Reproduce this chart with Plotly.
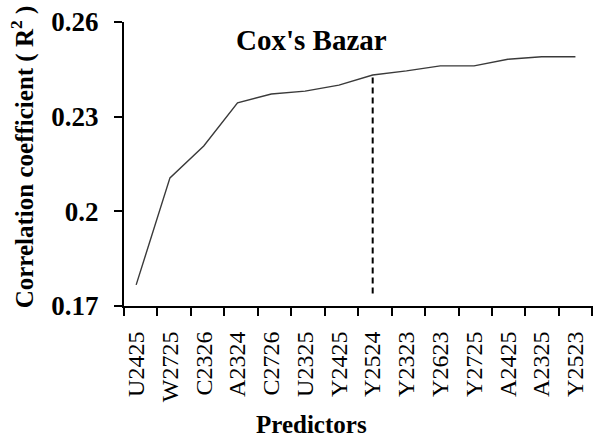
import plotly.graph_objects as go

predictors = ["U2425", "W2725", "C2326", "A2324", "C2726", "U2325", "Y2425",
              "Y2524", "Y2323", "Y2623", "Y2725", "A2425", "A2325", "Y2523"]
r2_values = [0.1767, 0.2106, 0.2207, 0.2344, 0.2372, 0.2381, 0.2400,
             0.2432, 0.2445, 0.2461, 0.2461, 0.2482, 0.2490, 0.2490]
y_ticks = [0.17, 0.2, 0.23, 0.26]
y_tick_text = ["0.17", "0.2", "0.23", "0.26"]
cutoff_index = 7
cutoff_base = 0.174

x_idx = list(range(len(predictors)))
font_family = "Liberation Serif, Times New Roman, serif"

fig = go.Figure()
fig.add_trace(go.Scatter(
    x=x_idx, y=r2_values, mode="lines",
    line=dict(color="#3a3a3a", width=1.4),
    showlegend=False, hoverinfo="skip"))
fig.add_trace(go.Scatter(
    x=[cutoff_index, cutoff_index], y=[cutoff_base, r2_values[cutoff_index]],
    mode="lines", line=dict(color="black", width=2, dash="6px,4px"),
    showlegend=False, hoverinfo="skip"))

fig.update_layout(
    width=600, height=438,
    margin=dict(l=124, r=7, t=22, b=132, autoexpand=False),
    paper_bgcolor="white", plot_bgcolor="white",
    font=dict(family=font_family, color="black"),
    annotations=[
        dict(text="<b>Cox's Bazar</b>", x=0.40, y=0.937, xref="paper", yref="paper",
             showarrow=False, font=dict(size=29, family=font_family, color="black"),
             xanchor="center", yanchor="middle"),
        dict(text="<b>Correlation coefficient ( R<sup>2</sup> )</b>",
             x=-0.216, y=0.526, xref="paper", yref="paper", textangle=-90,
             showarrow=False, font=dict(size=25, family=font_family, color="black"),
             xanchor="center", yanchor="middle"),
        dict(text="<b>Predictors</b>", x=0.40, y=-0.419, xref="paper", yref="paper",
             showarrow=False, font=dict(size=25, family=font_family, color="black"),
             xanchor="center", yanchor="middle"),
    ],
)
fig.update_xaxes(
    range=[-0.36, 13.52], automargin=False,
    tickmode="array", tickvals=x_idx, ticktext=predictors,
    tickangle=-90, ticks="", ticklabelstandoff=14,
    tickfont=dict(size=24, family=font_family, color="black"),
    showline=True, linecolor="black", linewidth=2,
    showgrid=False, zeroline=False,
    minor=dict(tickmode="linear", tick0=-0.36, dtick=0.99, ticks="outside",
               ticklen=8, tickwidth=2, tickcolor="black", showgrid=False),
)
fig.update_yaxes(
    range=[0.17, 0.26], automargin=False,
    tickmode="array", tickvals=y_ticks,
    ticktext=["<b>%s</b>" % t for t in y_tick_text],
    ticks="outside", ticklen=8, tickwidth=2, tickcolor="black",
    ticklabelstandoff=10,
    tickfont=dict(size=27, family=font_family, color="black"),
    showline=True, linecolor="black", linewidth=2,
    showgrid=False, zeroline=False,
)

fig.write_html("out.html", config={"displayModeBar": False},
               post_script="document.body.style.margin='0';document.body.style.overflow='hidden';")
